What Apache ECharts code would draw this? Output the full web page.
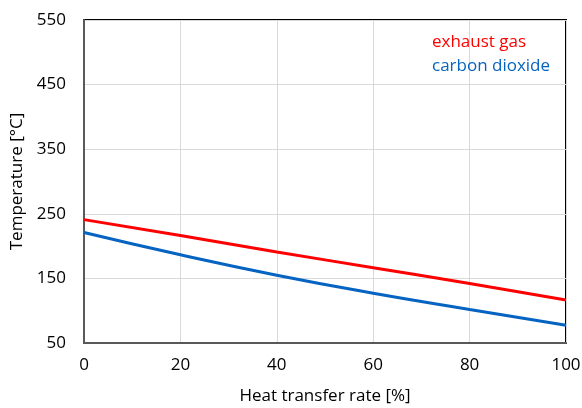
<!DOCTYPE html>
<html><head><meta charset="utf-8">
<script src="https://cdn.jsdelivr.net/npm/echarts@6/dist/echarts.min.js"></script>
<style>html,body{margin:0;padding:0;background:#fff}#c{width:582px;height:408px}</style>
</head><body><div id="c"></div>
<script>
const xValues = [0, 20, 40, 60, 80, 100];
const exhaustGas = [241, 216.5, 191, 166.5, 142, 116.5];
const carbonDioxide = [221, 186.5, 155, 127, 102, 77.5];
const seriesNames = ['exhaust gas', 'carbon dioxide'];
const seriesColors = ['#ff0000', '#0563c1'];
const font = 'Open Sans';

const chart = echarts.init(document.getElementById('c'), null, {renderer: 'canvas'});
chart.setOption({
  animation: false,
  grid: {left: 84, right: 16, top: 20, bottom: 65, show: true, borderColor: '#000', borderWidth: 2, containLabel: false, outerBoundsMode: 'none'},
  legend: {
    left: 432, top: 34, orient: 'vertical', icon: 'none', itemWidth: 0, itemHeight: 10, itemGap: 7,
    padding: 0,
    textStyle: {fontFamily: font, fontSize: 17, padding: [0, 0, 0, -5]},
    data: seriesNames.map((n, i) => ({name: n, textStyle: {color: seriesColors[i]}}))
  },
  xAxis: {
    type: 'value', min: 0, max: 100, interval: 20,
    name: 'Heat transfer rate [%]', nameLocation: 'middle', nameGap: 45,
    nameTextStyle: {fontFamily: font, fontSize: 17, color: '#000'},
    axisLine: {show: true, lineStyle: {color: '#595959', width: 2}},
    axisTick: {show: false},
    axisLabel: {fontFamily: font, fontSize: 17, color: '#000', margin: 14},
    splitLine: {show: true, lineStyle: {color: '#d9d9d9', width: 1}}
  },
  yAxis: {
    type: 'value', min: 50, max: 550, interval: 100,
    name: 'Temperature [°C]', nameLocation: 'middle', nameGap: 50,
    nameTextStyle: {fontFamily: font, fontSize: 17, color: '#000'},
    axisLine: {show: true, lineStyle: {color: '#595959', width: 2}},
    axisTick: {show: false},
    axisLabel: {fontFamily: font, fontSize: 17, color: '#000', margin: 18},
    splitLine: {show: true, lineStyle: {color: '#d9d9d9', width: 1}}
  },
  series: [
    {name: seriesNames[0], type: 'line', data: xValues.map((x, i) => [x, exhaustGas[i]]), smooth: true, showSymbol: false, lineStyle: {color: seriesColors[0], width: 3}, itemStyle: {color: seriesColors[0]}},
    {name: seriesNames[1], type: 'line', data: xValues.map((x, i) => [x, carbonDioxide[i]]), smooth: true, showSymbol: false, lineStyle: {color: seriesColors[1], width: 3}, itemStyle: {color: seriesColors[1]}}
  ]
});
</script></body></html>
